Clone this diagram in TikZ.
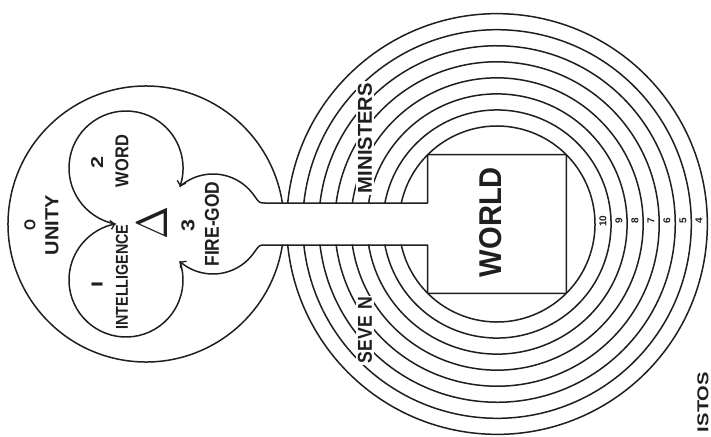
\documentclass[tikz,border=0pt]{standalone}
\usepackage{fontspec}
\usepackage{graphicx}
\usetikzlibrary{arrows.meta}
\newfontfamily\labfont{Liberation Sans}
\newcommand{\fitlab}[3]{\resizebox{#1pt}{#2pt}{\labfont\bfseries #3}}
\begin{document}
\begin{tikzpicture}[x=1pt,y=1pt,yscale=-1,
  ln/.style={line width=1.5pt,draw=black!88,line cap=round,line join=round},
  arr/.style={-{Straight Barb[length=4pt,width=9pt,line width=1.3pt]}},
  lab/.style={inner sep=0pt,anchor=center,rotate=90,text=black!88},
  ringlab/.style={lab,fill=white,inner sep=1.5pt},
  num/.style={inner sep=0pt,anchor=center,rotate=90,text=black!88,font=\fontsize{10}{10}\labfont\bfseries}]
\useasboundingbox[fill=white] (0,0) rectangle (711,436);
% centres
\coordinate (W) at (126,168);
\coordinate (I) at (126,280);
\coordinate (F) at (213,224);
\coordinate (U) at (146,224);
\coordinate (R) at (497,224);
% unity circle (cut by the stem)
\draw[ln] ([shift={(8.75:138)}]U) arc[start angle=8.75,end angle=351.25,radius=138];
% word arc
\draw[ln,arr] ([shift={(100.7:57)}]W) arc[start angle=100.7,end angle=378.85,radius=57];
% intelligence arc
\draw[ln,arr] ([shift={(-18.85:57)}]I) arc[start angle=-18.85,end angle=259.3,radius=57];
% fire-god arc, stem and world box
\draw[ln,arr] ([shift={(228.6:50)}]F) arc[start angle=228.6,end angle=325,radius=50]
  .. controls (259.4,203) .. (265,203) -- (427.7,203) -- (427.7,154.7) -- (566.3,154.7)
  -- (566.3,293.3) -- (427.7,293.3) -- (427.7,245) -- (265,245)
  .. controls (259.4,245) .. (253.96,252.68)
  arc[start angle=35,end angle=131.4,radius=50];
% seven ministers rings
\foreach \r [evaluate=\r as \a using {asin(21/\r)}] in {98,114.05,130.1,146.15,162.2,178.25,194.3,210.35}
  \draw[ln] ([shift={(180+\a:\r)}]R) arc[start angle=180+\a,end angle=540-\a,radius=\r];
% labels
\node[lab] (zero) at (30,225) {\fitlab{11}{11}{O}};
\node[lab] (unity) at (52,225) {\fitlab{60}{13}{UNITY}};
\node[lab] (two) at (97,162) {\fitlab{12}{12}{2}};
\node[lab] (word) at (122,161) {\fitlab{52}{13}{WORD}};
\node[lab] (one) at (97,284) {\fitlab{6}{11}{I}};
\node[lab] (intel) at (122,277) {\fitlab{105}{12}{INTELLIGENCE}};
\node[lab] (three) at (188,225) {\fitlab{12}{13}{3}};
\node[lab] (fire) at (212,224) {\fitlab{85}{14}{FIRE-GOD}};
\node[lab] (delta) at (152,223) {\resizebox{33pt}{30pt}{$\Delta$}};
\node[ringlab] (minis) at (365,138) {\fitlab{110}{14}{MINISTERS}};
\node[ringlab] (seven) at (365,330) {\fitlab{66}{14}{SEVE\kern0.35em N}};
\node[lab] (world) at (491,222) {\fitlab{110}{22}{WORLD}};
\node[num] (n10) at (603,221) {10};
\node[num] (n9) at (619,221) {9};
\node[num] (n8) at (635,221) {8};
\node[num] (n7) at (651,221) {7};
\node[num] (n6) at (667,221) {6};
\node[num] (n5) at (683,221) {5};
\node[num] (n4) at (699,221) {4};
\node[lab] (istos) at (703,402) {\fitlab{60}{11}{ISTOS}};
\end{tikzpicture}
\end{document}
